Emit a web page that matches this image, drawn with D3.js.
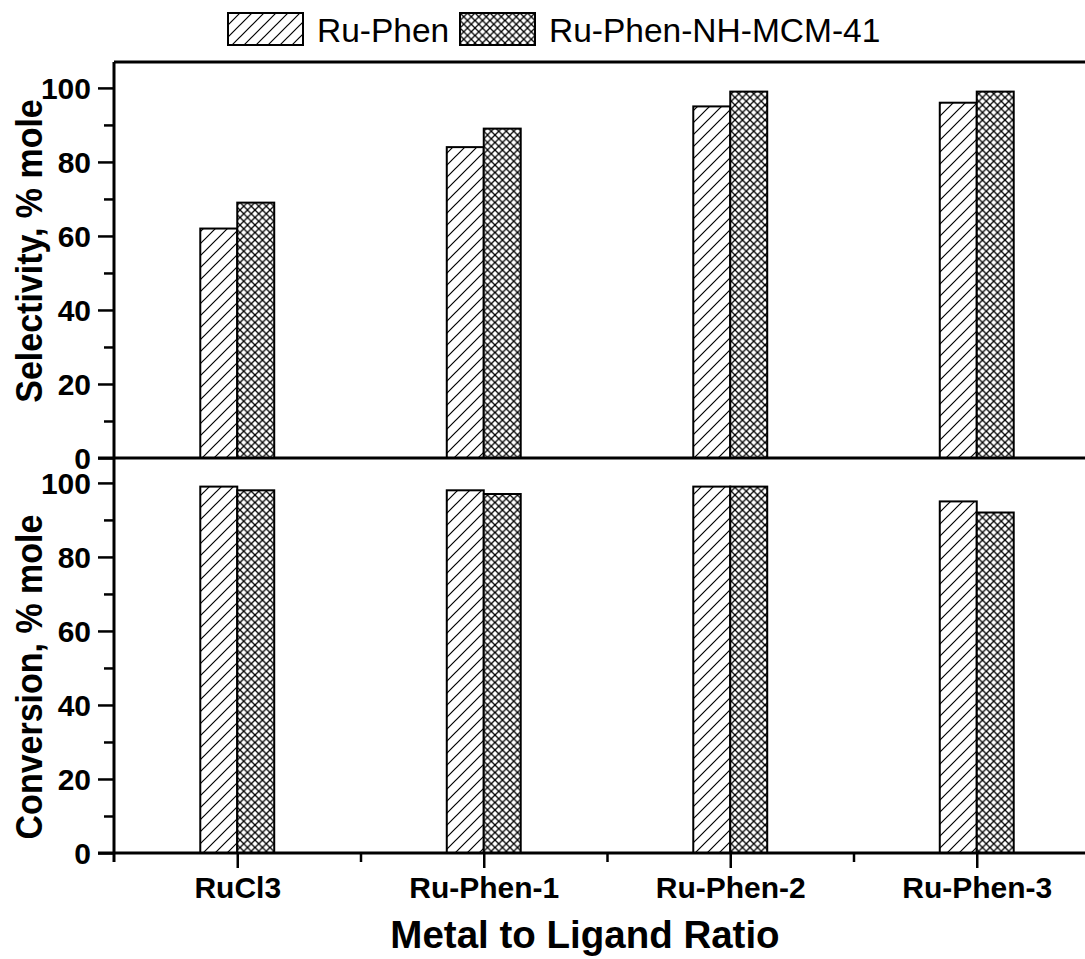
<!DOCTYPE html>
<html>
<head>
<meta charset="utf-8">
<script src="https://cdn.jsdelivr.net/npm/d3@7"></script>
<style>
  body { margin: 0; background: #fff; }
  svg { display: block; }
  text { font-family: "Liberation Sans", Arial, sans-serif; fill: #000; }
</style>
</head>
<body>
<div id="chart"></div>
<script>
// DATA
var categories = ["RuCl3", "Ru-Phen-1", "Ru-Phen-2", "Ru-Phen-3"];
var seriesNames = ["Ru-Phen", "Ru-Phen-NH-MCM-41"];
var selectivityRuPhen = [62, 84, 95, 96];
var selectivityMCM = [69, 89, 99, 99];
var conversionRuPhen = [99, 98, 99, 95];
var conversionMCM = [98, 97, 99, 92];
var yTicks = [0, 20, 40, 60, 80, 100];
var yMinorTicks = [10, 30, 50, 70, 90];

// SIZES
var width = 1085, height = 959;
var left = 114, right = 1100;     // plot runs past the right edge like the original
var barW = 0.15;                  // bar width in category units

var svg = d3.select("#chart").append("svg")
    .attr("width", width)
    .attr("height", height);

var defs = svg.append("defs");

// hatch pattern "/"
var p1 = defs.append("pattern")
    .attr("id", "hatch")
    .attr("patternUnits", "userSpaceOnUse")
    .attr("width", 12).attr("height", 12);
p1.append("rect").attr("width", 12).attr("height", 12).attr("fill", "#fff");
p1.append("path")
    .attr("d", "M-3,3 L3,-3 M0,12 L12,0 M9,15 L15,9")
    .attr("stroke", "#000").attr("stroke-width", 1.2);

// cross hatch
var cs = 7.5;
var p2 = defs.append("pattern")
    .attr("id", "cross")
    .attr("patternUnits", "userSpaceOnUse")
    .attr("width", cs).attr("height", cs);
p2.append("rect").attr("width", cs).attr("height", cs).attr("fill", "#fff");
p2.append("path")
    .attr("d", "M0,0 L" + cs + "," + cs + " M0," + cs + " L" + cs + ",0")
    .attr("stroke", "#000").attr("stroke-width", 1.3);

var fills = ["url(#hatch)", "url(#cross)"];

var x = d3.scaleLinear().domain([0.5, 4.5]).range([left, right]);

var panels = [
    { top: 62, bottom: 458, a: selectivityRuPhen, b: selectivityMCM, title: "Selectivity, % mole", titleY: 251 },
    { top: 457, bottom: 853, a: conversionRuPhen, b: conversionMCM, title: "Conversion, % mole", titleY: 677 }
];

function tickFont(sel) {
    sel.selectAll("text")
        .attr("font-family", null)
        .style("font-family", "'Liberation Sans', Arial, sans-serif")
        .style("font-weight", "bold")
        .style("font-size", "30px")
        .attr("fill", "#000");
}

panels.forEach(function(p, pi) {
    var y = d3.scaleLinear().domain([0, 107]).range([p.bottom, p.top]);
    var g = svg.append("g");

    // bars
    var rows = categories.map(function(c, i) { return { i: i + 1, a: p.a[i], b: p.b[i] }; });
    [["a", -barW], ["b", 0]].forEach(function(s, si) {
        g.selectAll(".bar" + si)
            .data(rows)
            .enter().append("rect")
            .attr("x", function(d) { return x(d.i + s[1]); })
            .attr("y", function(d) { return y(d[s[0]]); })
            .attr("width", x(1 + barW) - x(1))
            .attr("height", function(d) { return y(0) - y(d[s[0]]); })
            .attr("fill", fills[si])
            .attr("stroke", "#000")
            .attr("stroke-width", 2);
    });

    // y axis major
    var ya = g.append("g")
        .attr("transform", "translate(" + left + ",0)")
        .call(d3.axisLeft(y).tickValues(yTicks).tickSize(16).tickPadding(7).tickSizeOuter(0));
    ya.select(".domain").remove();
    ya.selectAll("line").attr("stroke-width", 2.5);
    ya.selectAll("text").attr("dy", "0.36em");
    tickFont(ya);

    g.append("g")
        .attr("transform", "translate(" + left + ",0)")
        .call(d3.axisLeft(y).tickValues(yMinorTicks).tickSize(10).tickFormat(""))
        .call(function(a) { a.select(".domain").remove(); a.selectAll("line").attr("stroke-width", 2.5); });

    // horizontal line at top of top panel
    if (pi == 0) {
        g.append("line")
            .attr("x1", left).attr("x2", width)
            .attr("y1", p.top).attr("y2", p.top)
            .attr("stroke", "#000").attr("stroke-width", 3);
    }
    // x baseline
    g.append("line")
        .attr("x1", left - 16).attr("x2", width)
        .attr("y1", y(0)).attr("y2", y(0))
        .attr("stroke", "#000").attr("stroke-width", 3);

    // y title
    g.append("text")
        .attr("transform", "translate(42," + p.titleY + ") rotate(-90) scale(1,1.08)")
        .attr("text-anchor", "middle")
        .style("font-weight", "bold")
        .style("font-size", "34px")
        .text(p.title);
});

// left axis line through both panels
svg.append("line")
    .attr("x1", left).attr("x2", left)
    .attr("y1", 62).attr("y2", 862)
    .attr("stroke", "#000").attr("stroke-width", 3);

// bottom x axis
var xa = svg.append("g")
    .attr("transform", "translate(0,853)")
    .call(d3.axisBottom(x).tickValues([1, 2, 3, 4]).tickSize(15).tickPadding(9)
        .tickFormat(function(d) { return categories[d - 1]; }));
xa.select(".domain").remove();
xa.selectAll("line").attr("stroke-width", 2.5);
tickFont(xa);

svg.append("g")
    .attr("transform", "translate(0,853)")
    .call(d3.axisBottom(x).tickValues([1.5, 2.5, 3.5]).tickSize(9).tickFormat(""))
    .call(function(a) { a.select(".domain").remove(); a.selectAll("line").attr("stroke-width", 2.5); });

svg.append("text")
    .attr("x", 585).attr("y", 948)
    .attr("text-anchor", "middle")
    .style("font-weight", "bold")
    .style("font-size", "38.5px")
    .text("Metal to Ligand Ratio");

// LEGEND
var legendX = [228, 460];
var legend = svg.append("g").selectAll("g")
    .data(seriesNames)
    .enter().append("g")
    .attr("transform", function(d, i) { return "translate(" + legendX[i] + ",13)"; });

legend.append("rect")
    .attr("width", 75).attr("height", 32)
    .attr("fill", function(d, i) { return fills[i]; })
    .attr("stroke", "#000").attr("stroke-width", 2);

legend.append("text")
    .attr("x", 89).attr("y", 29)
    .style("font-size", "33.5px")
    .text(function(d) { return d; });
</script>
</body>
</html>
